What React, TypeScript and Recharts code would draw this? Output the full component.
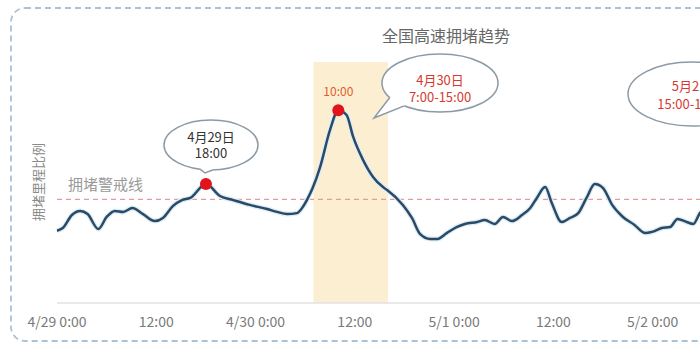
import React from "react";
import {
  LineChart,
  Line,
  XAxis,
  YAxis,
  ReferenceArea,
  ReferenceLine,
  ReferenceDot,
} from "recharts";

// hours since 4/29 0:00
const HOURS = [
  0, 0.7, 1.8, 2.8, 3.7, 5.0, 6.0, 7.0, 8.0, 9.1, 10.4, 11.8, 12.8, 14.0, 15.1,
  16.1, 18, 19.7, 21.3, 23.3, 25.4, 26.6, 27.8, 29.0, 29.7, 30.2, 30.9, 31.8,
  33.0, 34, 35.0, 35.8, 37.0, 38.2, 39.4, 39.9, 41.8, 42.9, 43.9, 45.1, 46.0,
  47.1, 48.3, 49.3, 50.8, 51.7, 52.9, 53.9, 55.0, 56.2, 57.2, 58.0, 59.0, 59.8,
  61.0, 62.0, 63.0, 64.0, 65.0, 66.0, 67.1, 68.4, 69.8, 71.1, 71.9, 73.1, 74.1,
  75.0, 76.1, 76.9, 77.7, 79,
];

// congestion index
const CONGESTION = [
  30, 31.1, 36.5, 38.2, 36.9, 30.7, 35.7, 38.2, 37.8, 39.4, 36.9, 34.0, 35.3,
  40.2, 42.7, 43.6, 49.4, 44.4, 42.7, 40.7, 39.0, 37.8, 36.9, 37.3, 39.8, 42.7,
  47.7, 56.4, 71.8, 80, 78.0, 68.9, 59.3, 52.3, 48.1, 46.9, 40.7, 35.3, 28.6,
  26.6, 26.6, 29.0, 31.5, 32.8, 33.6, 34.4, 32.8, 35.7, 34.0, 36.5, 39.4, 43.6,
  48.1, 41.5, 33.6, 35.3, 37.3, 43.6, 49.4, 47.7, 40.7, 35.7, 32.4, 29.0, 29.5,
  31.1, 31.5, 34.9, 33.6, 32.8, 37.3, 41,
];

const TICKS = [0, 12, 24, 36, 48, 60, 72];
const TICK_LABELS = [
  "4/29 0:00",
  "12:00",
  "4/30 0:00",
  "12:00",
  "5/1 0:00",
  "12:00",
  "5/2 0:00",
];

const ALERT_LEVEL = 43;
const JAM_WINDOW = [31, 40]; // 4/30 morning-afternoon band
const MARKED_HOURS = [18, 34];

const data = HOURS.map((h, i) => ({ h, v: CONGESTION[i] }));
const valueAt = (h: number) => data.find((d) => d.h === h)?.v ?? 0;

const FONT = '"Noto Sans CJK SC", "Noto Sans", sans-serif';

function AlertLabel({ viewBox }: any) {
  if (!viewBox) return null;
  return (
    <text
      x={viewBox.x + 11}
      y={viewBox.y - 16}
      fill="#9a9a9a"
      fontSize={15}
      fontFamily={FONT}
      dominantBaseline="central"
    >
      拥堵警戒线
    </text>
  );
}

function PeakDot({ cx, cy }: any) {
  return (
    <g>
      <circle cx={cx} cy={cy} r={6} fill="#e3131c" />
      <text
        x={cx}
        y={cy - 14}
        textAnchor="middle"
        fill="#df5a2c"
        fontSize={12}
        fontFamily={FONT}
      >
        10:00
      </text>
    </g>
  );
}

function RedDot({ cx, cy }: any) {
  return <circle cx={cx} cy={cy} r={6} fill="#e3131c" />;
}

type BubbleProps = {
  cx: number;
  cy: number;
  rx: number;
  ry: number;
  tip?: [number, number];
  angles?: [number, number];
  lines: string[];
  color: string;
  lineGap: number;
  textDy: number;
};

function Bubble({ cx, cy, rx, ry, tip, angles, lines, color, lineGap, textDy }: BubbleProps) {
  const pt = (deg: number) => {
    const a = (deg * Math.PI) / 180;
    return [cx + rx * Math.cos(a), cy + ry * Math.sin(a)];
  };
  let tail = null;
  if (tip && angles) {
    const [a1, a2] = angles.map(pt);
    tail = (
      <g>
        <polygon
          points={`${a1[0]},${a1[1]} ${tip[0]},${tip[1]} ${a2[0]},${a2[1]} ${cx},${cy}`}
          fill="#fff"
        />
        <polyline
          points={`${a1[0]},${a1[1]} ${tip[0]},${tip[1]} ${a2[0]},${a2[1]}`}
          fill="none"
          stroke="#8c9aa5"
          strokeWidth={1.5}
        />
      </g>
    );
  }
  return (
    <g>
      <ellipse cx={cx} cy={cy} rx={rx} ry={ry} fill="#fff" stroke="#8c9aa5" strokeWidth={1.5} />
      {tail}
      {lines.map((t, i) => (
        <text
          key={i}
          x={cx}
          y={cy + textDy + i * lineGap}
          textAnchor="middle"
          dominantBaseline="central"
          fill={color}
          fontSize={13}
          fontFamily={FONT}
        >
          {t}
        </text>
      ))}
    </g>
  );
}

export default function App() {
  return (
    <div
      style={{
        position: "absolute",
        left: 0,
        top: 0,
        width: 700,
        height: 350,
        overflow: "hidden",
        background: "#fff",
        fontFamily: FONT,
      }}
    >
      <LineChart
        width={800}
        height={350}
        data={data}
        margin={{ top: 62, left: 57, right: 48, bottom: 17 }}
      >
        <XAxis
          dataKey="h"
          type="number"
          domain={[0, 84]}
          ticks={TICKS}
          tickFormatter={(v: number) => TICK_LABELS[TICKS.indexOf(v)] ?? ""}
          tickLine={false}
          axisLine={{ stroke: "#e2e2e2", strokeWidth: 1.5 }}
          tick={{ fill: "#7a7a7a", fontSize: 14, fontFamily: FONT }}
          tickMargin={8}
          height={30}
          interval={0}
        />
        <YAxis hide domain={[0, 100]} type="number" />
        <ReferenceArea
          x1={JAM_WINDOW[0]}
          x2={JAM_WINDOW[1]}
          fill="#fcefd1"
          fillOpacity={1}
          stroke="none"
        />
        <ReferenceLine
          y={ALERT_LEVEL}
          stroke="#e59aa2"
          strokeDasharray="5 4"
          strokeWidth={1.2}
          label={<AlertLabel />}
        />
        <Line
          dataKey="v"
          type="monotone"
          stroke="#dcedf8"
          strokeWidth={5}
          dot={false}
          activeDot={false}
          isAnimationActive={false}
        />
        <Line
          dataKey="v"
          type="monotone"
          stroke="#2c4a63"
          strokeWidth={2.5}
          dot={false}
          activeDot={false}
          isAnimationActive={false}
        />
        <ReferenceDot
          x={MARKED_HOURS[0]}
          y={valueAt(MARKED_HOURS[0])}
          r={6}
          shape={RedDot}
        />
        <ReferenceDot
          x={MARKED_HOURS[1]}
          y={valueAt(MARKED_HOURS[1])}
          r={6}
          shape={PeakDot}
        />
      </LineChart>

      <svg
        width={700}
        height={350}
        style={{ position: "absolute", left: 0, top: 0, pointerEvents: "none" }}
      >
        <rect
          x={11}
          y={8}
          width={760}
          height={333}
          rx={14}
          fill="none"
          stroke="#a9c2d6"
          strokeWidth={1.8}
          strokeDasharray="6 4"
        />
        <text
          x={446}
          y={35}
          textAnchor="middle"
          dominantBaseline="central"
          fill="#666"
          fontSize={16}
          fontFamily={FONT}
        >
          全国高速拥堵趋势
        </text>
        <text
          x={37}
          y={182}
          textAnchor="middle"
          dominantBaseline="central"
          fill="#8a8a8a"
          fontSize={13}
          fontFamily={FONT}
          transform="rotate(-90 37 182)"
        >
          拥堵里程比例
        </text>
        <Bubble
          cx={211}
          cy={145}
          rx={47}
          ry={25}
          tip={[205, 173]}
          angles={[103, 88]}
          lines={["4月29日", "18:00"]}
          color="#333"
          lineGap={16}
          textDy={-9}
        />
        <Bubble
          cx={440}
          cy={83}
          rx={58}
          ry={29}
          tip={[374, 118]}
          angles={[150, 128]}
          lines={["4月30日", "7:00-15:00"]}
          color="#d63a2f"
          lineGap={17}
          textDy={-4}
        />
        <Bubble
          cx={692}
          cy={94}
          rx={64}
          ry={32}
          lines={["5月2日", "15:00-19:00"]}
          color="#d63a2f"
          lineGap={18}
          textDy={-9}
        />
      </svg>
    </div>
  );
}
